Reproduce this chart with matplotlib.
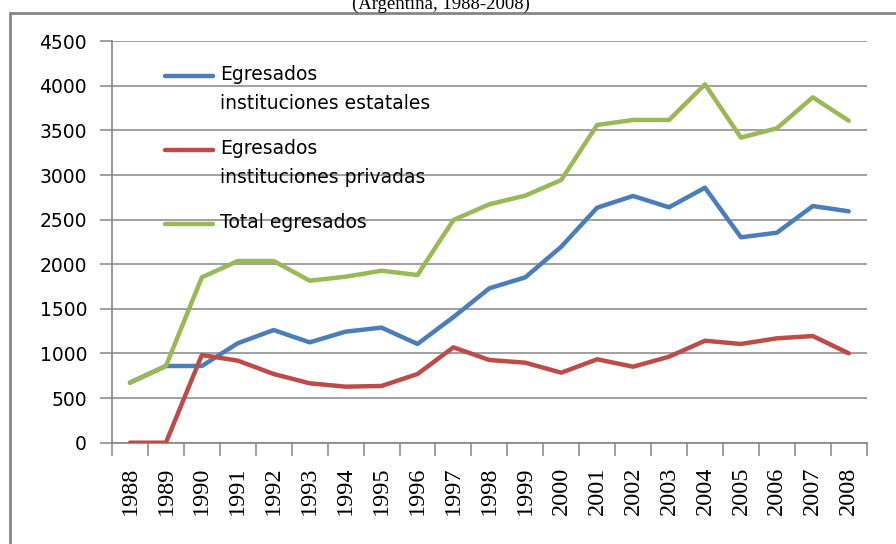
import matplotlib
matplotlib.use("Agg")
import matplotlib.pyplot as plt
from matplotlib.lines import Line2D
from matplotlib.patches import Rectangle

plt.rcParams["font.serif"] = ["Liberation Serif", "DejaVu Serif"]

years = [str(y) for y in range(1988, 2009)]
estatales = [673, 860, 860, 1115, 1263, 1125, 1245, 1290, 1107, 1408, 1731,
             1854, 2197, 2635, 2766, 2639, 2859, 2303, 2354, 2653, 2594]
privadas = [0, 0, 983, 920, 770, 666, 628, 636, 770, 1069, 927,
            897, 785, 935, 852, 964, 1143, 1107, 1170, 1196, 1002]
total = [673, 860, 1854, 2037, 2037, 1816, 1861, 1928, 1880, 2497, 2673,
         2770, 2945, 3562, 3618, 3618, 4018, 3420, 3525, 3872, 3610]

labels = ["Egresados\ninstituciones estatales",
          "Egresados\ninstituciones privadas",
          "Total egresados"]
colors = ["#4A7EBB", "#BE4B48", "#98B954"]
series = [estatales, privadas, total]

W, H = 896, 544
fig = plt.figure(figsize=(W / 100, H / 100), dpi=100)
ax = fig.add_axes([112 / W, 1 - 442.7 / H, 754.7 / W, 401.4 / H])

x = list(range(len(years)))
for vals, c in zip(series, colors):
    ax.plot(x, vals, color=c, lw=3.2, solid_capstyle="round", zorder=3)

grid = "#868686"
ax.set_xlim(-0.5, len(years) - 0.5)
ax.set_ylim(0, 4500)
ax.set_yticks(range(0, 4501, 500))
ax.yaxis.grid(True, color=grid, lw=1.1)
ax.set_axisbelow(True)
for s in ["top", "right"]:
    ax.spines[s].set_visible(False)
for s in ["left", "bottom"]:
    ax.spines[s].set_color(grid)
    ax.spines[s].set_linewidth(1.2)

ax.tick_params(axis="y", length=9, width=1.1, color=grid, pad=9,
               labelsize=13.5, labelcolor="black")
ax.set_xticks(x)
ax.set_xticks([i - 0.5 for i in range(len(years) + 1)], minor=True)
ax.tick_params(axis="x", which="major", length=0, pad=17)
ax.tick_params(axis="x", which="minor", length=9, width=1.1, color=grid)
ax.set_xticklabels(years, rotation=90, fontfamily="serif", fontsize=17.5)

# legend drawn by hand so the line sits on the first text line
tr = ax.transAxes
ytop = [(442.7 - 76) / 401.4, (442.7 - 150) / 401.4, (442.7 - 224) / 401.4]
for lab, c, yy in zip(labels, colors, ytop):
    ax.add_line(Line2D([(165 - 112) / 754.7, (213 - 112) / 754.7], [yy, yy],
                       transform=tr, color=c, lw=3.2, solid_capstyle="round"))
    ax.text((220 - 112) / 754.7, yy + 11 / 401.4, lab, transform=tr,
            va="top", ha="left", fontsize=13.5, linespacing=1.65)

fig.add_artist(Rectangle((10 / W, -0.1), 1.2, 1.1 - 13 / H, transform=fig.transFigure,
                         fill=False, edgecolor=grid, lw=2.0))
fig.text(441 / W, 1 - 9 / H, "(Argentina, 1988-2008)", ha="center", va="baseline",
         fontfamily="serif", fontsize=13.5)

fig.savefig("out.png", dpi=100)
